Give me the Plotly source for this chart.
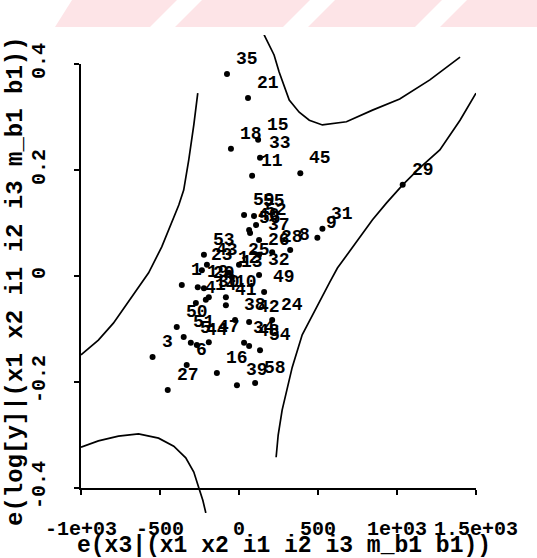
import plotly.graph_objects as go

W, H = 537, 558

# Added-variable residuals: e(x3|...) against e(log[y]|...), labelled by observation
obs_id = ["35", "21", "15", "18", "33", "11", "45", "29", "59", "55",
          "52", "40", "56", "37", "28", "8", "9", "31", "26", "53",
          "43", "23", "25", "32", "13", "12", "1", "19", "20", "10",
          "49", "4", "30", "14", "41", "38", "42", "24", "50", "51",
          "5", "44", "47", "34", "48", "54", "3", "6", "16", "39",
          "58", "27"]
resid_x3 = [-76, 57, 121, -51, 133, 83, 388, 1036, 32, 95,
            108, 64, 70, 127, 210, 324, 496, 528, 127, -222,
            -203, -235, 0, 127, -45, -64, -362, -261, -222, -83,
            159, -273, -191, -210, -83, -25, 64, 210, -394, -350,
            -305, -267, -191, 32, 64, 133, -547, -331, -140, -13,
            102, -451]
resid_logy = [0.381, 0.336, 0.257, 0.240, 0.223, 0.189, 0.194, 0.172, 0.115, 0.113,
              0.096, 0.087, 0.081, 0.068, 0.045, 0.049, 0.072, 0.089, 0.040, 0.040,
              0.021, 0.011, 0.021, 0.002, -0.002, 0.006, -0.017, -0.021, -0.023, -0.040,
              -0.030, -0.051, -0.040, -0.045, -0.055, -0.083, -0.087, -0.083, -0.096, -0.115,
              -0.126, -0.130, -0.125, -0.126, -0.132, -0.140, -0.153, -0.168, -0.183, -0.206,
              -0.202, -0.215]

# Confidence band branches
band_ul_x = [-1000, -890, -795, -699, -636, -572, -489, -426, -381, -350, -318, -286, -261]
band_ul_y = [-0.149, -0.121, -0.089, -0.049, -0.023, 0.006, 0.055, 0.100, 0.134, 0.162, 0.219, 0.285, 0.345]

band_ur_x = [159, 191, 222, 254, 286, 318, 381, 445, 528, 680, 845, 1017, 1208, 1399]
band_ur_y = [0.455, 0.436, 0.417, 0.385, 0.357, 0.332, 0.309, 0.294, 0.285, 0.291, 0.313, 0.334, 0.370, 0.413]

band_lr_x = [1500, 1399, 1271, 1144, 1036, 934, 845, 763, 623, 572, 509, 445, 400, 337, 305, 273, 248, 235]
band_lr_y = [0.345, 0.294, 0.238, 0.204, 0.172, 0.138, 0.106, 0.072, 0.015, -0.013, -0.049, -0.083,
             -0.111, -0.172, -0.215, -0.253, -0.300, -0.342]

band_ll_x = [-1000, -890, -763, -636, -509, -413, -337, -286, -254, -229, -210]
band_ll_y = [-0.323, -0.311, -0.302, -0.298, -0.306, -0.321, -0.343, -0.370, -0.400, -0.423, -0.447]

# Axis ticks
x_ticks = [-1000, -500, 0, 500, 1000, 1500]
x_ticktext = ["-1e+03", "-500", "0", "500", "1e+03", "1.5e+03"]
y_ticks = [-0.4, -0.2, 0, 0.2, 0.4]
y_ticktext = ["-0.4", "-0.2", "0", "0.2", "0.4"]

x_title = "e(x3|(x1 x2 i1 i2 i3 m_b1 b1))"
y_title = "e(log[y]|(x1 x2 i1 i2 i3 m_b1 b1))"

MONO = "Liberation Mono"


def px(v):
    return v / W


def py(v):
    return 1 - v / H


# Frame geometry (pixels)
left, right = 81, 476
axis_top, axis_bottom = 64, 488
data_top, data_bottom = 35, 513
units_per_px = 0.8 / (axis_bottom - axis_top)
y_hi = 0.4 + (axis_top - data_top) * units_per_px
y_lo = -0.4 - (data_bottom - axis_bottom) * units_per_px

fig = go.Figure()

for bx, by in [(band_ul_x, band_ul_y), (band_ur_x, band_ur_y),
               (band_lr_x, band_lr_y), (band_ll_x, band_ll_y)]:
    fig.add_trace(go.Scatter(x=bx, y=by, mode="lines",
                             line=dict(color="black", width=1.7),
                             hoverinfo="skip", showlegend=False))

fig.add_trace(go.Scatter(x=resid_x3, y=resid_logy, mode="markers",
                         marker=dict(color="black", size=6),
                         cliponaxis=False, showlegend=False))

# Empty trace so the framed axes subplot is rendered
fig.add_trace(go.Scatter(x=[None], y=[None], xaxis="x2", yaxis="y2",
                         showlegend=False, hoverinfo="skip"))

annotations = []
for lab, xv, yv in zip(obs_id, resid_x3, resid_logy):
    annotations.append(dict(x=xv, y=yv, xref="x", yref="y", text=lab,
                            showarrow=False, xanchor="left", yanchor="middle",
                            xshift=7, yshift=15,
                            font=dict(family=MONO, size=18, color="black", weight="bold")))

annotations.append(dict(x=px(284), y=py(546), xref="paper", yref="paper",
                        text=x_title, showarrow=False, xanchor="center",
                        yanchor="middle",
                        font=dict(family=MONO, size=23, color="black", weight="bold")))
annotations.append(dict(x=px(15), y=py(281), xref="paper", yref="paper",
                        text=y_title, showarrow=False, textangle=-90,
                        xanchor="center", yanchor="middle",
                        font=dict(family=MONO, size=24, color="black", weight="bold")))

# Pale striped banner along the top edge
shapes = []


def poly(points, color):
    d = "M " + " L ".join(f"{px(a):.5f},{py(b):.5f}" for a, b in points) + " Z"
    return dict(type="path", path=d, xref="paper", yref="paper",
                fillcolor=color, line=dict(width=0), layer="below")


shapes.append(poly([(55, 27), (72, 0), (537, 0), (537, 27)], "#fde4e7"))
for x0 in [150, 283, 415]:
    shapes.append(poly([(x0, 27), (x0 + 25, 27), (x0 + 52, 0), (x0 + 27, 0)], "white"))

fig.update_layout(
    width=W, height=H,
    margin=dict(l=0, r=0, t=0, b=0, autoexpand=False),
    paper_bgcolor="white",
    plot_bgcolor="rgba(0,0,0,0)",
    showlegend=False,
    xaxis=dict(domain=[px(left), px(right)], range=[-1000, 1500], anchor="y",
               visible=False, showgrid=False, zeroline=False, fixedrange=True),
    yaxis=dict(domain=[py(data_bottom), py(data_top)], range=[y_lo, y_hi], anchor="x",
               visible=False, showgrid=False, zeroline=False, fixedrange=True),
    xaxis2=dict(domain=[px(left), px(right)], range=[-1000, 1500], anchor="y2",
                tickmode="array", tickvals=x_ticks, ticktext=x_ticktext,
                ticks="outside", ticklen=5, tickwidth=1.5, tickcolor="black",
                showline=True, linecolor="black", linewidth=2,
                showgrid=False, zeroline=False, tickangle=0,
                ticklabelstandoff=16,
                tickfont=dict(family=MONO, size=20, color="black", weight="bold")),
    yaxis2=dict(domain=[py(axis_bottom), py(axis_top)], range=[-0.4, 0.4], anchor="x2",
                tickmode="array", tickvals=y_ticks, ticktext=y_ticktext,
                ticks="outside", ticklen=5, tickwidth=1.5, tickcolor="black",
                showline=True, linecolor="black", linewidth=2,
                showgrid=False, zeroline=False, tickangle=-90,
                ticklabelstandoff=21,
                tickfont=dict(family=MONO, size=20, color="black", weight="bold")),
    annotations=annotations,
    shapes=shapes,
)

fig.write_html("out.html")
